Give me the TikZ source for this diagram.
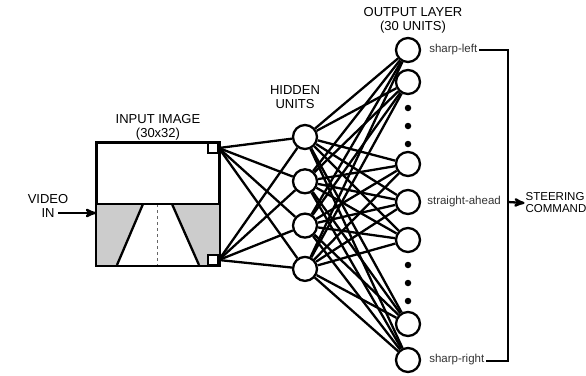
\documentclass[tikz,border=0pt]{standalone}
\usepackage{fontspec}
\setmainfont{Liberation Sans}
\usetikzlibrary{arrows,positioning}

\begin{document}
\begin{tikzpicture}[x=1pt, y=-1pt, >=stealth', line width=2.3pt,
    unit/.style={circle, draw, fill=white, minimum size=24pt, inner sep=0pt},
    pixel/.style={rectangle, draw, fill=white, minimum size=10pt, inner sep=0pt, line width=1.5pt},
    dot/.style={circle, fill=black, minimum size=6.5pt, inner sep=0pt},
    caps/.style={font=\fontsize{13}{14}\selectfont, align=center, inner sep=0pt},
    small/.style={font=\fontsize{11.5}{13}\selectfont, text=black!80, inner sep=1pt}]
    \useasboundingbox (0,0) rectangle (586,375);

    % Input image
    \node [draw, minimum width=122pt, minimum height=122pt, inner sep=0pt] (img) at (158,204) {};
    \fill [black!20] (img.west) rectangle (img.south east);
    \fill [white] (143,204) -- (172,204) -- (199,265) -- (117,265) -- cycle;
    \draw (143,204) -- (117,265);
    \draw (172,204) -- (199,265);
    \draw [black!60, line width=0.5pt, dashed] (157,204) -- (157,265);
    \draw (img.west) -- (img.east);
    \draw (img.north west) rectangle (img.south east);
    \node [pixel] (ptop) at (213,148) {};
    \node [pixel] (pbot) at (213,260) {};
    \node [caps] (imglbl) at (158,127) {INPUT IMAGE\\(30x32)};

    % Video in
    \node [caps] (vid) at (48,206) {VIDEO\\IN};
    \coordinate (vin) at (58,213);
    \draw [->] (vin) -- (vin -| img.west);

    % Hidden units {h1, h2, h3, h4}
    \node [unit] (h1) at (305,137) {};
    \node [unit] (h2) [below=18pt of h1] {};
    \node [unit] (h3) [below=18pt of h2] {};
    \node [unit] (h4) [below=17pt of h3] {};
    \node [caps] (hidlbl) at (295,97) {HIDDEN\\UNITS};

    % Output units {o1, ..., o7}
    \node [unit] (o1) at (408,50)  {};
    \node [unit] (o2) at (408,82)  {};
    \node [unit] (o3) at (408,164) {};
    \node [unit] (o4) at (408,202) {};
    \node [unit] (o5) at (408,240) {};
    \node [unit] (o6) at (408,324) {};
    \node [unit] (o7) at (408,360) {};
    \node [caps] (outlbl) at (413,20) {OUTPUT LAYER\\(30 UNITS)};

    \node [dot] (d1) at (408,108) {};
    \node [dot] (d2) at (408,126) {};
    \node [dot] (d3) at (408,144) {};
    \node [dot] (d4) at (408,265) {};
    \node [dot] (d5) at (408,283) {};
    \node [dot] (d6) at (408,301) {};

    % Paths
    \foreach \h in {1,...,4} {
        \path [draw] (ptop.east) edge (h\h);
        \path [draw] (pbot.east) edge (h\h);
        \foreach \o in {1,...,7}
            \path [draw] (h\h) edge (o\o);
    }

    % Steering command
    \node [small] (sl) [right=6pt of o1] {sharp-left};
    \node [small] (sa) [right=4pt of o4] {straight-ahead};
    \node [small] (sr) [right=6pt of o7] {sharp-right};
    \coordinate (brtop) at (508,50);
    \coordinate (brmid) at (508,202);
    \coordinate (brbot) at (508,361);
    \draw [line width=2.5pt] (sl.east) -- (brtop) -- (brbot) -- (sr.east |- brbot);
    \node [small, text=black, align=left, inner sep=0pt, font=\fontsize{11.5}{12}\selectfont] (cmd) at (556,203) {STEERING\\COMMAND};
    \draw [->] (brmid) -- (cmd.west);
\end{tikzpicture}
\end{document}
